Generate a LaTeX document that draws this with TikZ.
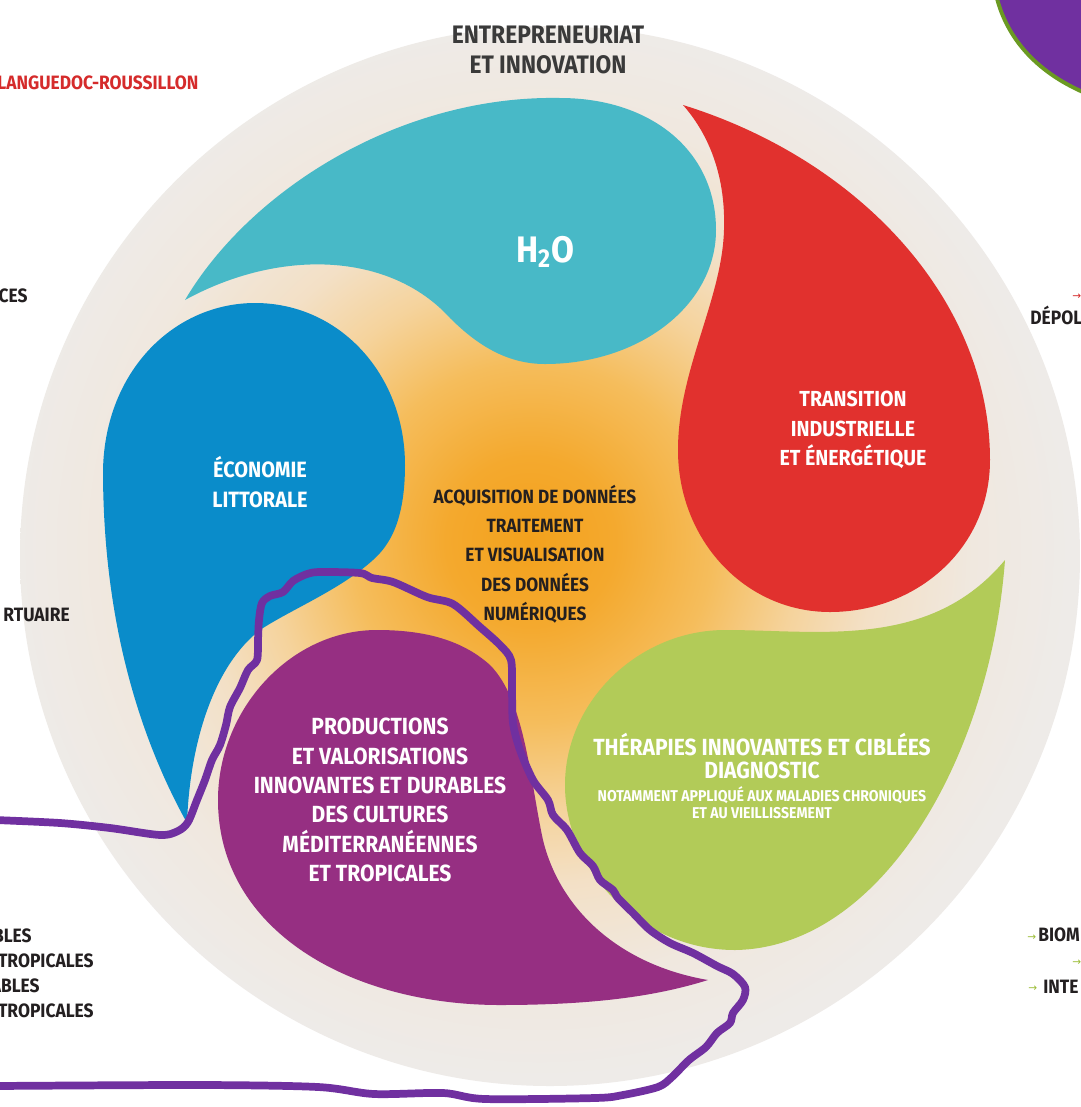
\documentclass[tikz,border=0pt]{standalone}
\usepackage{fontspec}
\setmainfont{Fira Sans}[FakeStretch=0.9]
\newfontfamily\arrowfont{DejaVu Sans}
\definecolor{cyanD}{HTML}{48B9C7}
\definecolor{blueD}{HTML}{0A8CCA}
\definecolor{redD}{HTML}{E1312E}
\definecolor{greenD}{HTML}{B2CB58}
\definecolor{purpD}{HTML}{962F82}
\definecolor{penP}{HTML}{7030A0}
\definecolor{olive}{HTML}{6B9A22}
\definecolor{darkT}{HTML}{231F20}
\definecolor{titleT}{HTML}{3A3A3A}
\definecolor{redT}{HTML}{D52B2B}
\definecolor{arrG}{HTML}{9DBE3A}
\definecolor{oc0}{HTML}{F3A11C}
\definecolor{oc1}{HTML}{F4A92E}
\definecolor{oc2}{HTML}{F5BD5C}
\definecolor{oc3}{HTML}{F5D39C}
\definecolor{oc4}{HTML}{F3E0C6}
\definecolor{oc5}{HTML}{F0E8DF}
\definecolor{oc6}{HTML}{EEEBE8}
\pgfdeclareradialshading{bgshade}{\pgfpoint{-1bp}{0.75bp}}{color(0bp)=(oc0); color(4bp)=(oc1); color(8.5bp)=(oc2); color(12.5bp)=(oc3); color(16bp)=(oc4); color(20.5bp)=(oc5); color(25bp)=(oc6); color(50bp)=(oc6)}
\tikzset{
  lab/.style={font=\bfseries\fontsize{13}{16.7}\selectfont, text=white, align=center, inner sep=0pt},
  midlab/.style={font=\bfseries\fontsize{10.9}{16.7}\selectfont, text=darkT, align=center, inner sep=0pt},
  edgelab/.style={font=\bfseries\fontsize{11}{12}\selectfont, text=darkT, inner sep=0pt},
  arr/.style={font=\arrowfont\fontsize{6}{7}\selectfont, inner sep=0pt},
  pen/.style={draw=penP, line width=4.4pt, line cap=round, line join=round}
}
\begin{document}
\begin{tikzpicture}[x=0.02cm, y=-0.02cm]
\useasboundingbox (0,0) rectangle (1080,1107);
\fill[white] (0,0) rectangle (1080,1107);
% background disc
\shade[shading=bgshade] (550,556) circle[radius=530];
% cyan drop (H2O)
\fill[cyanD] (185,300) .. controls (280,248) and (390,252) .. (450,318)
  .. controls (480,348) and (510,364) .. (545,364)
  .. controls (640,364) and (716,305) .. (716,230)
  .. controls (716,150) and (650,98) .. (560,98)
  .. controls (400,95) and (250,190) .. (185,300) -- cycle;
% blue drop
\fill[blueD] (187,823) .. controls (130,720) and (103,600) .. (103,470)
  .. controls (105,370) and (175,303) .. (255,303)
  .. controls (340,303) and (405,375) .. (405,465)
  .. controls (405,520) and (390,545) .. (373,560)
  .. controls (340,590) and (290,610) .. (260,630)
  .. controls (215,665) and (190,740) .. (187,823) -- cycle;
% red drop
\fill[redD] (683,105) .. controls (860,160) and (990,300) .. (990,460)
  .. controls (990,550) and (915,612) .. (830,612)
  .. controls (745,612) and (678,540) .. (678,450)
  .. controls (678,370) and (722,300) .. (724,230)
  .. controls (726,170) and (705,130) .. (683,105) -- cycle;
% green drop
\fill[greenD] (1005,560) .. controls (990,760) and (880,948) .. (735,950)
  .. controls (640,950) and (565,870) .. (565,785)
  .. controls (565,700) and (640,630) .. (725,630)
  .. controls (820,630) and (930,650) .. (1005,560) -- cycle;
% purple drop
\fill[purpD] (708,980) .. controls (620,965) and (560,910) .. (543,840)
  .. controls (530,780) and (525,700) .. (490,665)
  .. controls (460,638) and (420,630) .. (377,630)
  .. controls (290,630) and (218,710) .. (218,800)
  .. controls (218,930) and (350,1005) .. (500,1005)
  .. controls (600,1005) and (660,995) .. (708,980) -- cycle;
% top-right purple shape
\fill[penP] (995,-10) .. controls (1005,40) and (1040,75) .. (1090,95) -- (1090,-10) -- cycle;
\draw[olive, line width=2.2pt] (995,-10) .. controls (1005,40) and (1040,75) .. (1090,95);
% labels
\node[lab, text=titleT, font=\bfseries\fontsize{14.4}{17}\selectfont] (t) at (548,50) {ENTREPRENEURIAT\\ET INNOVATION};
\node[lab, font=\bfseries\fontsize{21}{22}\selectfont] (h) at (545,252) {H\textsubscript{2}O};
\node[lab, font=\bfseries\fontsize{12.4}{16.7}\selectfont] (r) at (853,430) {TRANSITION\\INDUSTRIELLE\\ET ÉNERGÉTIQUE};
\node[lab, font=\bfseries\fontsize{12.6}{16.7}\selectfont] (b) at (260,482) {ÉCONOMIE\\LITTORALE};
\node[midlab] (c) at (535,554) {ACQUISITION DE DONNÉES\\TRAITEMENT\\ET VISUALISATION\\DES DONNÉES\\NUMÉRIQUES};
\node[lab, font=\bfseries\fontsize{13.3}{16.7}\selectfont] (p) at (380,800) {PRODUCTIONS\\ET VALORISATIONS\\INNOVANTES ET DURABLES\\DES CULTURES\\MÉDITERRANÉENNES\\ET TROPICALES};
\node[lab, font=\bfseries\fontsize{13.3}{13}\selectfont] (g) at (762,756) {THÉRAPIES INNOVANTES ET CIBLÉES\\DIAGNOSTIC};
\node[lab, font=\bfseries\fontsize{8.9}{9.6}\selectfont] (gs) at (762,803) {NOTAMMENT APPLIQUÉ AUX MALADIES CHRONIQUES\\ET AU VIEILLISSEMENT};
% edge texts
\node[edgelab, text=redT, anchor=west] (e1) at (-3,83) {LANGUEDOC-ROUSSILLON};
\node[edgelab, anchor=east] (e2) at (28,296) {CES};
\node[edgelab, anchor=east] (e3) at (70,615) {RTUAIRE};
\node[edgelab, anchor=east] (e4) at (32,936) {BLES};
\node[edgelab, anchor=east] (e5) at (94,961) {TROPICALES};
\node[edgelab, anchor=east] (e6) at (40,986) {ABLES};
\node[edgelab, anchor=east] (e7) at (94,1011) {TROPICALES};
\node[arr, text=redT, anchor=west] (a1) at (1072,297) {→};
\node[edgelab, anchor=west] (e8) at (1030,315) {DÉPOL};
\node[arr, text=arrG, anchor=west] (a2) at (1027,938) {→};
\node[edgelab, anchor=west] (e9) at (1038,935) {BIOM};
\node[arr, text=arrG, anchor=west] (a3) at (1072,963) {→};
\node[arr, text=arrG, anchor=west] (a4) at (1028,989) {→};
\node[edgelab, anchor=west] (e10) at (1043,987) {INTE};
% hand-drawn outline
\draw[pen] plot[smooth, tension=0.5] coordinates {
 (-5,820) (60,823) (110,828) (160,835) (178,831) (188,822) (197,800) (205,780) (212,760) (220,745)
 (226,725) (230,707) (240,688) (248,670) (257,660) (258,640) (259,620) (262,603) (270,596) (283,592)
 (293,581) (307,574) (320,572) (360,573) (372,578) (393,582) (427,597) (453,604) (480,627) (500,645)
 (511,660) (512,690) (513,723) (520,750) (533,780) (548,800) (553,815) (567,830) (580,853) (593,866)
 (600,880) (613,890) (618,898) (633,913) (650,930) (670,943) (693,953) (717,966) (733,974) (745,987)
 (743,1000) (733,1013) (730,1023) (717,1033) (706,1047) (689,1060) (672,1077) (658,1087) (623,1095)
 (595,1098) (485,1099) (443,1093) (374,1094) (318,1087) (200,1085) (-5,1086)};
\end{tikzpicture}
\end{document}
